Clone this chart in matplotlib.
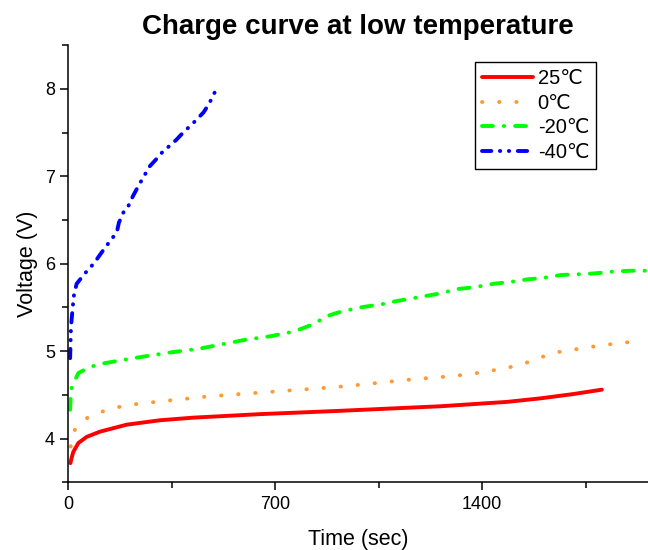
import matplotlib
matplotlib.use("Agg")
import matplotlib.pyplot as plt
from matplotlib.ticker import MultipleLocator

plt.rcParams['font.family'] = ['Liberation Sans', 'DejaVu Sans']

# data (time in sec, voltage in V)
t_25 = [8, 12, 18, 35, 63, 108, 199, 311, 424, 537, 649, 900, 1258, 1484, 1596, 1709, 1805]
v_25 = [3.72, 3.78, 3.85, 3.95, 4.02, 4.08, 4.16, 4.21, 4.24, 4.26, 4.28, 4.315, 4.37,
        4.42, 4.46, 4.51, 4.56]

t_0 = [9, 20, 69, 125, 182, 240, 353, 467, 582, 706, 828, 941, 1055, 1170, 1283,
       1340, 1404, 1469, 1526, 1585, 1639, 1695, 1752, 1808, 1864, 1935]
v_0 = [3.91, 4.09, 4.25, 4.32, 4.37, 4.40, 4.44, 4.48, 4.51, 4.54, 4.57, 4.60, 4.64,
       4.68, 4.71, 4.73, 4.76, 4.80, 4.84, 4.91, 4.98, 5.01, 5.04, 5.07, 5.09, 5.12]

t_m20 = [7, 10, 18, 35, 74, 119, 221, 334, 446, 599, 683, 757, 792, 830, 875, 911,
         948, 987, 1027, 1066, 1106, 1258, 1315, 1371, 1438, 1492, 1551, 1610, 1664,
         1726, 1782, 1842, 1901, 1961]
v_m20 = [4.33, 4.56, 4.63, 4.75, 4.82, 4.86, 4.92, 4.98, 5.03, 5.13, 5.17, 5.22, 5.26,
         5.31, 5.40, 5.44, 5.47, 5.50, 5.52, 5.54, 5.57, 5.66, 5.71, 5.73, 5.77, 5.79,
         5.82, 5.84, 5.87, 5.88, 5.89, 5.91, 5.92, 5.92]

t_m40 = [7, 10, 16, 20, 29, 57, 74, 95, 116, 140, 165, 172, 189, 204, 219, 238, 260,
         275, 297, 320, 351, 367, 392, 418, 441, 458, 477, 496]
v_m40 = [4.92, 5.28, 5.51, 5.64, 5.77, 5.89, 5.95, 6.04, 6.14, 6.25, 6.36, 6.47, 6.60,
         6.66, 6.77, 6.89, 7.02, 7.11, 7.19, 7.28, 7.37, 7.42, 7.51, 7.59, 7.67, 7.73,
         7.83, 7.96]

labels = ['25\u2103', '0\u2103', '-20\u2103', '-40\u2103']

fig = plt.figure(figsize=(6.48, 5.5), dpi=100)
ax = fig.add_axes([0.105, 0.123, 0.895, 0.795])

lw = 2.8
ax.plot(t_25, v_25, color='#ff0000', lw=lw, label=labels[0],
        solid_capstyle='round', solid_joinstyle='round')
ax.plot(t_0, v_0, color='#ff9933', lw=lw, label=labels[1],
        dashes=(0.1, 4.3), dash_capstyle='round')
ax.plot(t_m20, v_m20, color='#00ff00', lw=lw, label=labels[2],
        dashes=(2.8, 2.8, 0.1, 2.8), dash_capstyle='round')
ax.plot(t_m40, v_m40, color='#0000ff', lw=lw, label=labels[3],
        dashes=(2.4, 2.2, 0.1, 2.2, 0.1, 2.2), dash_capstyle='round')

ax.set_xlim(0, 1961)
ax.set_ylim(3.5, 8.5)
ax.xaxis.set_major_locator(MultipleLocator(700))
ax.xaxis.set_minor_locator(MultipleLocator(350))
ax.yaxis.set_major_locator(MultipleLocator(1))
ax.yaxis.set_minor_locator(MultipleLocator(0.5))

for s in ['top', 'right']:
    ax.spines[s].set_visible(False)
for s in ['left', 'bottom']:
    ax.spines[s].set_linewidth(1.1)

ax.tick_params(which='major', direction='out', length=6, width=1.1, labelsize=13)
ax.tick_params(which='minor', direction='out', length=4, width=1.1)

ax.set_xlabel('Time (sec)', fontsize=15.5, labelpad=12)
ax.set_ylabel('Voltage (V)', fontsize=15.5, labelpad=5)
ax.set_title('Charge curve at low temperature', fontsize=20, fontweight='bold', pad=8)

leg = ax.legend(loc='upper right', bbox_to_anchor=(0.911, 0.961), fontsize=14.5,
                fancybox=False, edgecolor='black', framealpha=1,
                handlelength=2.5, handletextpad=0.25, labelspacing=0.28,
                borderpad=0.35, borderaxespad=0)
leg.get_frame().set_linewidth(1.0)

fig.savefig('out.png', dpi=100)
